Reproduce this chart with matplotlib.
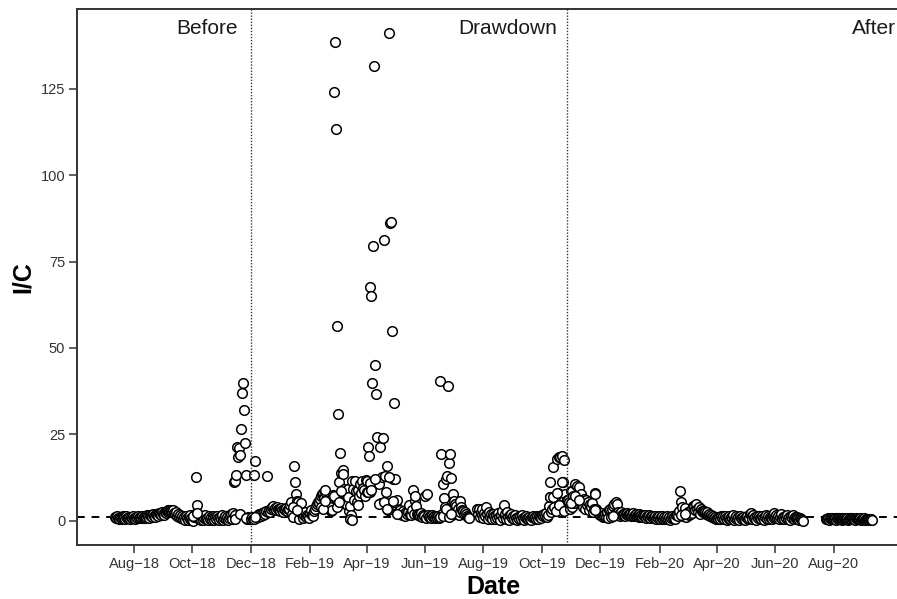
import pandas as pd
import matplotlib
matplotlib.use('Agg')
import matplotlib.pyplot as plt
import matplotlib.dates as mdates

plt.rcParams['font.family'] = ['Liberation Sans', 'DejaVu Sans']

# I/C ratio, one value per day from the start date of each period (None = no sample)
before_start = '2018-07-12'
before_ic = [
    1.0, 0.7, 1.2, 0.8, 0.5, 1.1, 0.9, 0.6, 1.3, 0.8,
    1.0, 0.5, 1.2, 0.9, 0.7, 1.1, 0.6, 1.0, 0.8, 1.2,
    0.9, 0.6, 1.1, 0.8, 1.3, 0.7, 1.0, 0.9, 1.2, 0.8,
    1.1, 0.9, 1.3, 1.0, 1.5, 1.2, 0.8, 1.6, 1.3, 1.1,
    1.8, 1.4, 1.0, 2.0, 1.6, 1.3, 2.2, 1.8, 1.5, 2.4,
    2.0, 1.7, 2.6, 2.2, 2.9, 2.4, 3.1, 2.7, 3.2, 2.8,
    2.5, 3.0, 2.2, 1.8, 2.6, 1.4, 2.0, 1.0, 1.6, 0.8,
    1.2, 0.5, 1.0, 0.3, 1.4, 0.7, 0.2, 1.1, 0.6, 1.5,
    0.8, 0.3, 0.0, 1.0, 2.0, 12.7, 4.6, 1.8, 0.4, 1.2,
    0.3, 1.0, 0.1, 0.8, 1.5, 0.4, 0.9, 0.2, 1.3, 0.6,
    1.0, 0.3, 1.4, 0.7, 0.1, 1.1, 0.5, 1.3, 0.8, 0.2,
    1.0, 0.6, 1.5, 0.3, 0.9, 1.2, 0.4, 1.0, 0.2, 0.7,
    1.3, 2.0, 0.5, 2.2, 11.1, 1.5, 11.6, 13.3, 21.2, 18.5,
    20.9, 19.1, 26.5, 37.0, 39.9, 32.1, 22.5, 13.3, 0.5, 1.0,
    0.4, 0.8,
]
# second samples taken on the same day (day index within the period)
before_extra_day = [82, 86, 125, 131, 137]
before_extra_ic = [1.2, 2.2, 0.6, 1.8, 0.9]

drawdown_start = '2018-12-01'
drawdown_ic = [
    0.5, 1.0, 0.4, 13.3, 17.2, 0.8, 1.2, 1.5, 1.0, 1.8,
    1.9, 1.4, 2.2, 1.6, 2.5, 2.0, 2.8, 13.0, 2.4, 3.0,
    2.6, 3.5, 3.9, 4.3, 3.0, 3.7, 3.2, 4.0, 3.4, 3.0,
    3.4, 2.8, 3.6, 3.2, 2.5, 3.4, 3.0, 3.8, 2.7, 3.5,
    3.5, 4.6, 5.3, 2.0, 1.0, 15.7, 11.1, 7.7, 5.8, 5.3,
    0.5, 2.4, 5.0, 2.0, 1.2, 0.8, 1.5, 2.6, 1.0, 1.7,
    1.4, 0.9, 2.2, 3.0, 1.6, 1.2, 2.9, 3.5, 4.2, 4.8,
    5.5, 5.0, 6.3, 7.0, 7.7, 8.0, 6.5, 8.2, 9.0, 5.3,
    5.8, 5.0, 4.3, 4.0, 2.9, 3.2, 7.5, 124.2, 138.5, 113.3,
    56.3, 30.8, 11.1, 19.7, 13.7, 8.7, 14.7, 9.2, 6.0, 7.5,
    4.5, 9.2, 6.7, 2.7, 4.3, 1.5, 11.6, 9.2, 6.0, 11.6,
    8.7, 5.5, 9.0, 7.0, 10.5, 8.0, 11.6, 9.5, 8.9, 7.2,
    11.8, 8.3, 21.2, 18.6, 67.7, 8.2, 65.0, 39.8, 79.4, 131.6,
    45.2, 36.7, 24.1, 11.1, 10.6, 21.4, 5.2, 12.7, 23.8, 81.3,
    13.0, 8.2, 15.9, 3.1, 141.1, 86.2, 86.5, 54.8, 5.5, 12.1,
    34.0, 12.1, 5.4, 6.0, 2.5, 1.9, 3.0, 2.2, 1.5, 2.9,
    2.0, 1.4, 2.4, 1.9, 2.6, 4.6, 2.0, 1.5, 3.0, 8.9,
    1.8, 5.8, 7.2, 4.3, 2.0, 1.5, 1.9, 1.2, 2.2, 1.0,
    1.6, 1.2, 7.2, 0.8, 7.7, 1.5, 1.0, 1.3, 0.8, 1.6,
    1.0, 1.2, 0.7, 1.4, 1.0, 0.9, 1.3, 0.8, 40.5, 19.3,
    2.0, 10.6, 6.5, 3.9, 12.1, 12.8, 39.1, 16.6, 19.3, 12.4,
    1.5, 7.7, 5.8, 4.8, 4.3, 2.0, 3.4, 1.5, 2.5, 5.8,
    3.9, 3.0, 2.9, 2.0, 2.4, 1.8, 1.4, 1.0, 0.8, None,
    None, None, None, None, None, None, 3.5, 2.0, 3.5, 1.0,
    2.5, 1.5, 3.5, 0.8, 2.2, 1.2, 4.0, 1.8, 0.6, 2.5,
    1.0, 1.8, 0.5, 2.0, 1.2, 0.4, 1.5, 0.8, 2.2, 1.0,
    0.3, 1.6, 2.9, 0.8, 4.6, 1.2, 1.8, 0.6, 2.4, 1.0,
    0.2, 1.5, 2.0, 0.7, 1.2, 0.4, 1.6, 0.8, 0.3, 1.0,
    0.5, 1.2, 0.6, 1.5, 0.8, 0.3, 1.0, 1.4, 0.5, 0.9,
    0.4, 1.1, 0.6, 0.3, 1.0, 1.3, 0.8, 1.0, 0.5, 1.2,
    0.6, 1.4, 1.0, 0.8, 1.5, 1.2, 2.0, 1.4, 2.2, 1.0,
    1.5, 4.3, 11.1, 6.7, 2.6, 3.5, 15.6, 3.9, 6.7, 2.9,
    17.9, 8.0, 18.5, 18.5, 4.5, 18.8, 11.1, 17.6, 7.7, 4.0,
    6.0,
]
drawdown_extra_day = [3, 4, 44, 48, 73, 75, 78, 87, 90, 92, 94, 96, 104, 106,
                      112, 121, 122, 124, 126, 130, 134, 139, 142, 144, 149,
                      153, 198, 201, 204, 207, 209, 312, 316, 320, 322, 325,
                      327]
drawdown_extra_ic = [0.6, 1.0, 4.0, 3.2, 4.0, 3.5, 5.8, 7.2, 4.0, 5.5, 8.7,
                     13.5, 0.5, 0.2, 4.5, 11.6, 8.3, 11.0, 9.0, 12.0, 4.8,
                     5.3, 3.4, 12.7, 5.8, 1.9, 1.0, 1.2, 3.5, 1.0, 2.0, 6.7,
                     6.7, 8.0, 4.5, 11.1, 2.9]

after_start = '2019-10-28'
after_ic = [
    6.0, 5.3, 3.5, 8.5, 4.0, 8.7, 7.2, 5.0, 10.6, 6.5,
    10.1, 6.3, 9.6, 5.3, 7.7, 5.3, 4.0, 6.3, 3.5, 6.0,
    4.6, 5.3, 3.0, 4.8, 3.9, 5.0, 2.5, 3.4, 7.9, 7.7,
    3.4, 2.9, 2.4, 2.0, 1.5, 2.2, 1.4, 1.0, 1.4, 1.8,
    1.0, 2.5, 0.8, 3.0, 3.4, 1.0, 3.4, 4.3, 4.8, 2.0,
    5.3, 4.8, 1.5, 2.4, 1.8, 1.2, 2.4, 1.5, 2.0, 1.9,
    1.4, 1.9, 2.2, 1.5, 1.8, 2.0, 1.3, 1.7, 2.1, 1.4,
    1.6, 1.8, 1.2, 1.5, 1.9, 1.0, 1.4, 1.7, 1.1, 1.5,
    1.2, 1.6, 0.9, 1.3, 1.0, 1.5, 0.8, 1.2, 1.4, 0.7,
    1.0, 1.3, 0.6, 1.1, 0.9, 1.4, 0.5, 1.0, 0.8, 1.2,
    0.6, 1.0, 0.4, 0.9, 1.2, 0.6, 1.1, 0.3, 0.8, 1.3,
    0.7, 1.0, 0.5, 1.6, 2.0, 1.2, 2.9, 8.7, 5.3, 3.9,
    1.4, 1.4, 2.0, 3.7, 1.0, 1.9, 2.5, 1.5, 2.0, 3.0,
    2.2, 4.2, 4.3, 3.0, 4.8, 3.5, 2.4, 3.9, 2.0, 3.3,
    2.9, 2.4, 2.9, 2.4, 1.8, 2.0, 2.4, 1.5, 2.0, 1.2,
    1.6, 1.0, 1.3, 0.8, 1.1, 0.5, 0.9, 0.4, 1.0, 0.6,
    1.4, 0.8, 1.2, 0.5, 1.4, 0.9, 0.3, 1.1, 0.6, 1.3,
    0.4, 1.0, 0.7, 1.5, 0.2, 0.9, 1.2, 0.5, 1.0, 0.3,
    1.4, 0.8, 0.5, 1.1, 0.6, 0.2, 1.0, 1.3, 0.4, 0.9,
    1.9, 2.2, 1.2, 0.6, 1.5, 0.8, 1.0, 0.3, 1.2, 0.7,
    1.4, 0.9, 0.5, 1.2, 0.8, 0.3, 1.0, 1.5, 0.6, 1.2,
    0.4, 1.1, 0.8, 0.5, 1.3, 0.9, 2.1, 1.0, 1.6, 0.7,
    1.2, 0.5, 1.0, 1.8, 0.6, 1.1, 0.4, 1.3, 0.8, 1.5,
    0.6, 1.0, 0.3, 1.2, 0.8, 1.6, 0.5, 1.0, 0.9, 0.4,
    1.1, 0.7, 0.3, 0.9, 0.5, 0.2, 0.0, None, None, None,
    None, None, None, None, None, None, None, None, None, None,
    None, None, None, None, None, None, None, None, None, None,
    0.6, 0.4, 0.8, 0.3, 0.7, 0.5, 0.9, 0.4, 0.6, 0.8,
    0.3, 0.7, 0.5, 0.9, 0.4, 0.6, 0.3, 0.8, 0.5, 0.7,
    0.4, 0.6, 0.9, 0.3, 0.5, 0.7, 0.4, 0.8, 0.5, 0.6,
    0.3, 0.7, 0.4, 0.6, 0.5, 0.8, 0.3, 0.6, 0.4, 0.5,
    0.7, 0.3, 0.5, 0.4, 0.6, 0.3, 0.5, 0.4, 0.2,
]
after_extra_day = [3, 8, 12, 28, 47, 118, 123]
after_extra_ic = [5.0, 7.0, 6.0, 3.0, 1.2, 1.5, 1.8]

period_names = ['Before', 'Drawdown', 'After']
label_dates = ['2018-11-17', '2019-10-17', '2020-10-05']
boundary_dates = ['2018-12-01', '2019-10-27']
tick_dates = ['2018-08-01', '2018-10-01', '2018-12-01', '2019-02-01',
              '2019-04-01', '2019-06-01', '2019-08-01', '2019-10-01',
              '2019-12-01', '2020-02-01', '2020-04-01', '2020-06-01',
              '2020-08-01']
y_ticks = [0, 25, 50, 75, 100, 125]
ref_ic = 1


def period_frame(start, daily, extra_day, extra_ic):
    start = pd.Timestamp(start)
    d = pd.DataFrame({'date': pd.date_range(start, periods=len(daily), freq='D'),
                      'ic': pd.to_numeric(pd.Series(daily, dtype='object'))})
    e = pd.DataFrame({'date': start + pd.to_timedelta(extra_day, unit='D'),
                      'ic': extra_ic})
    return pd.concat([d, e], ignore_index=True).dropna()


df = pd.concat([
    period_frame(before_start, before_ic, before_extra_day, before_extra_ic),
    period_frame(drawdown_start, drawdown_ic, drawdown_extra_day, drawdown_extra_ic),
    period_frame(after_start, after_ic, after_extra_day, after_extra_ic),
], ignore_index=True)

dark = '#333333'
fig = plt.figure(figsize=(8.97, 5.99), dpi=100)
ax = fig.add_axes([77 / 897, 54 / 599, 833 / 897, 536 / 599])

ax.axhline(ref_ic, color='black', lw=1.4, linestyle=(0, (4, 3.5)), zorder=1)
ax.scatter(df['date'], df['ic'], s=48, facecolor='white', edgecolor='black',
           linewidths=1.1, zorder=2)
for d in boundary_dates:
    ax.axvline(pd.Timestamp(d), color='#333333', lw=1.0,
               linestyle=(0, (1, 1.2)), zorder=3)

# ggplot-style 5% expansion around the data
x0 = mdates.date2num(df['date'].min())
x1 = mdates.date2num(df['date'].max())
ax.set_xlim(x0 - 0.05 * (x1 - x0), x1 + 0.05 * (x1 - x0))
y0, y1 = df['ic'].min(), df['ic'].max()
ax.set_ylim(y0 - 0.05 * (y1 - y0), y1 + 0.05 * (y1 - y0))

for name, d in zip(period_names, label_dates):
    ax.text(pd.Timestamp(d), 141.0, name, ha='right', va='baseline',
            fontsize=15, color='#1a1a1a', clip_on=False)

ax.set_xticks([pd.Timestamp(t) for t in tick_dates])
ax.xaxis.set_major_formatter(mdates.DateFormatter('%b\u2212%y'))
ax.set_yticks(y_ticks)

for s in ax.spines.values():
    s.set_color(dark)
    s.set_linewidth(1.4)
ax.tick_params(direction='out', length=6, width=1.1, color=dark,
               labelcolor=dark, labelsize=10.5, pad=2.5)

ax.set_xlabel('Date', fontsize=18, fontweight='bold', labelpad=3)
ax.set_ylabel('I/C', fontsize=18, fontweight='bold', labelpad=4)

fig.savefig('out.png', dpi=100)
